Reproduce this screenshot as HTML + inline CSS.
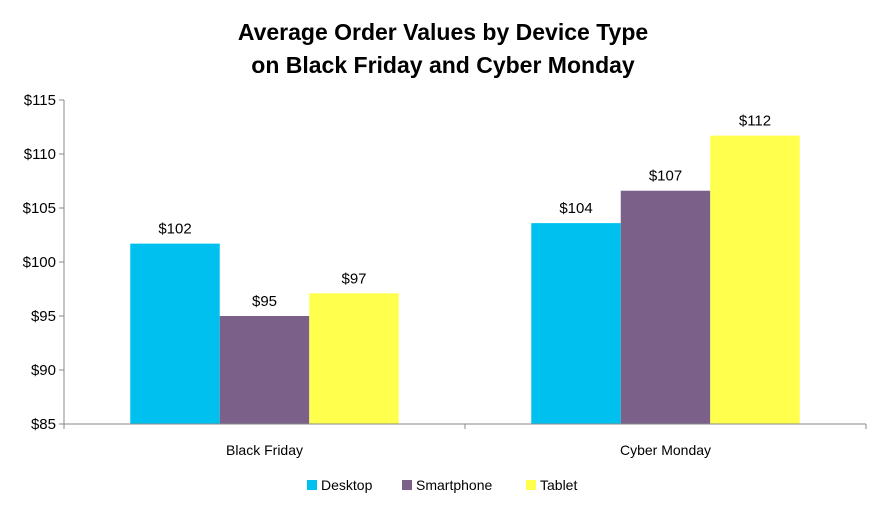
<!DOCTYPE html>
<html><head><meta charset="utf-8"><style>
body{margin:0;background:#fff;}
svg text{font-family:"Liberation Sans",sans-serif;fill:#000;}
</style></head><body>
<svg width="886" height="511" viewBox="0 0 886 511" id="c">
<text x="443" y="40" text-anchor="middle" font-size="23" font-weight="bold">Average Order Values by Device Type</text>
<text x="443" y="73" text-anchor="middle" font-size="23" font-weight="bold">on Black Friday and Cyber Monday</text>
<g id="plot"></g>
<g>
<rect x="307" y="480" width="10" height="10" fill="#00C0EF"/>
<text x="321" y="490" font-size="14">Desktop</text>
<rect x="402" y="480" width="10" height="10" fill="#7B6089"/>
<text x="416" y="490" font-size="14">Smartphone</text>
<rect x="526" y="480" width="10" height="10" fill="#FFFF4D"/>
<text x="540" y="490" font-size="14">Tablet</text>
</g>
</svg>
<script>
const categories=["Black Friday","Cyber Monday"];
const seriesNames=["Desktop","Smartphone","Tablet"];
const desktop=[101.7,103.6];
const smartphone=[95,106.6];
const tablet=[97.1,111.7];
const valueLabels=[["$102","$95","$97"],["$104","$107","$112"]];
const yTicks=[85,90,95,100,105,110,115];
const colors=["#00C0EF","#7B6089","#FFFF4D"];
const NS="http://www.w3.org/2000/svg";
const g=document.getElementById('plot');
const x0=64,x1=866,yTop=100,yBot=424,yMin=85,yMax=115;
const y=v=>yBot-(v-yMin)/(yMax-yMin)*(yBot-yTop);
const catW=(x1-x0)/categories.length;
const barW=89.5;
function mk(t,a){const e=document.createElementNS(NS,t);for(const k in a)e.setAttribute(k,a[k]);g.appendChild(e);return e;}
yTicks.forEach(v=>{
  const t=mk('line',{x1:x0-5,x2:x0,y1:y(v),y2:y(v),stroke:'#888'});
  
  
  const l=mk('text',{x:x0-8,y:y(v)+5,'text-anchor':'end','font-size':'15'});
  l.textContent='$'+v;
  
  
});
const series=[desktop,smartphone,tablet];
categories.forEach((c,i)=>{
  const cx=x0+catW*(i+0.5);
  series.forEach((s,j)=>{
    const bx=cx-1.5*barW+j*barW;
    const r=mk('rect',{x:bx,y:y(s[i]),width:barW,height:yBot-y(s[i]),fill:colors[j]});
    
    
    const t=mk('text',{x:bx+barW/2,y:y(s[i])-10,'text-anchor':'middle','font-size':'15'});
    t.textContent=valueLabels[i][j];
    
    
  });
  const cl=mk('text',{x:cx,y:yBot+31,'text-anchor':'middle','font-size':'14'});
  cl.textContent=c;
  
  
});
for(let i=0;i<=categories.length;i++){
  const t=mk('line',{x1:x0+catW*i,x2:x0+catW*i,y1:yBot,y2:yBot+5,stroke:'#888'});
  
  
}
const ya=mk('line',{x1:x0,x2:x0,y1:yTop,y2:yBot,stroke:'#888'});


const xa=mk('line',{x1:x0,x2:x1,y1:yBot,y2:yBot,stroke:'#888'});


</script>
</body></html>
